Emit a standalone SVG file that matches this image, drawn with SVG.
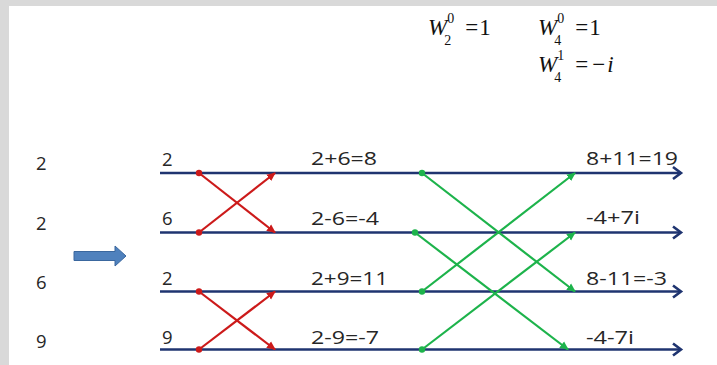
<svg xmlns="http://www.w3.org/2000/svg" width="717" height="365" viewBox="0 0 717 365">
<defs>
<style>
.lbl{font-family:"Open Sans","Liberation Sans",sans-serif;font-size:18.5px;fill:#262626}
.m{font-family:"Liberation Serif","Times New Roman",serif;fill:#111;font-size:23px}
.it{font-style:italic}
.s{font-size:14px}
.wire{stroke:#1f3470;stroke-width:2.6;fill:none}
.red{stroke:#cc1a1a;stroke-width:2.2;fill:none}
.grn{stroke:#1db34b;stroke-width:2.2;fill:none}
</style>
<marker id="navyHead" markerUnits="userSpaceOnUse" markerWidth="14" markerHeight="16" refX="11" refY="7" orient="auto" viewBox="0 0 14 14">
<path d="M3,1 L11,7 L3,13" fill="none" stroke="#1f3470" stroke-width="2.6" stroke-linejoin="miter"/>
</marker>
<marker id="redHead" markerUnits="userSpaceOnUse" markerWidth="10" markerHeight="10" refX="8" refY="4" orient="auto" viewBox="0 0 10 8">
<path d="M0,0 L9,4 L0,8 Z" fill="#cc1a1a"/>
</marker>
<marker id="grnHead" markerUnits="userSpaceOnUse" markerWidth="10" markerHeight="10" refX="8" refY="4" orient="auto" viewBox="0 0 10 8">
<path d="M0,0 L9,4 L0,8 Z" fill="#1db34b"/>
</marker>
</defs>
<rect x="0" y="0" width="717" height="365" fill="#ffffff"/>
<rect x="0" y="0" width="717" height="6" fill="#d9d9d9"/>
<rect x="0" y="0" width="9" height="365" fill="#d9d9d9"/>

<g id="twiddles">
<text class="m" x="428" y="35"><tspan class="it">W</tspan><tspan class="s" dx="0" dy="-12">0</tspan><tspan class="s" dx="-10" dy="22">2</tspan><tspan dx="14" dy="-10">=</tspan><tspan dx="1">1</tspan></text>
<text class="m" x="538" y="35"><tspan class="it">W</tspan><tspan class="s" dx="0" dy="-12">0</tspan><tspan class="s" dx="-10" dy="22">4</tspan><tspan dx="14" dy="-10">=</tspan><tspan dx="1">1</tspan></text>
<text class="m" x="538" y="72"><tspan class="it">W</tspan><tspan class="s" dx="0" dy="-12">1</tspan><tspan class="s" dx="-10" dy="22">4</tspan><tspan dx="14" dy="-10">=</tspan><tspan dx="4">−</tspan><tspan class="it" dx="2">i</tspan></text>
</g>

<g id="input">
<text class="lbl" x="36" y="170">2</text>
<text class="lbl" x="36" y="230">2</text>
<text class="lbl" x="36" y="289">6</text>
<text class="lbl" x="36" y="348">9</text>
</g>

<g id="bigArrow">
<path d="M74,251.5 L115,251.5 L115,246 L126,256 L115,266 L115,260.5 L74,260.5 Z" fill="#4f81bd" stroke="#3a679e" stroke-width="1"/>
</g>

<g id="connectors">
<line class="wire" x1="160" y1="173" x2="681" y2="173" marker-end="url(#navyHead)"/>
<line class="wire" x1="160" y1="232.5" x2="681" y2="232.5" marker-end="url(#navyHead)"/>
<line class="wire" x1="160" y1="291.5" x2="681" y2="291.5" marker-end="url(#navyHead)"/>
<line class="wire" x1="160" y1="349.5" x2="681" y2="349.5" marker-end="url(#navyHead)"/>

<line class="red" x1="199" y1="173" x2="275" y2="232.5" marker-end="url(#redHead)"/>
<line class="red" x1="199" y1="232.5" x2="275" y2="173" marker-end="url(#redHead)"/>
<line class="red" x1="199" y1="291.5" x2="275" y2="349.5" marker-end="url(#redHead)"/>
<line class="red" x1="199" y1="349.5" x2="275" y2="291.5" marker-end="url(#redHead)"/>
<circle cx="199" cy="173" r="3.2" fill="#cc1a1a"/>
<circle cx="199" cy="232.5" r="3.2" fill="#cc1a1a"/>
<circle cx="199" cy="291.5" r="3.2" fill="#cc1a1a"/>
<circle cx="199" cy="349.5" r="3.2" fill="#cc1a1a"/>

<line class="grn" x1="422" y1="173" x2="575" y2="291.5" marker-end="url(#grnHead)"/>
<line class="grn" x1="415" y1="232.5" x2="568" y2="349.5" marker-end="url(#grnHead)"/>
<line class="grn" x1="422" y1="291.5" x2="575" y2="173" marker-end="url(#grnHead)"/>
<line class="grn" x1="422" y1="349.5" x2="575" y2="232.5" marker-end="url(#grnHead)"/>
<circle cx="422" cy="173" r="3.2" fill="#1db34b"/>
<circle cx="415" cy="232.5" r="3.2" fill="#1db34b"/>
<circle cx="422" cy="291.5" r="3.2" fill="#1db34b"/>
<circle cx="422" cy="349.5" r="3.2" fill="#1db34b"/>
</g>

<g id="stage0">
<text class="lbl" x="162" y="166">2</text>
<text class="lbl" x="162" y="225">6</text>
<text class="lbl" x="162" y="285">2</text>
<text class="lbl" x="162" y="344">9</text>
</g>

<g id="stage1">
<text class="lbl" x="311" y="165" textLength="66" lengthAdjust="spacingAndGlyphs">2+6=8</text>
<text class="lbl" x="311" y="225" textLength="68" lengthAdjust="spacingAndGlyphs">2-6=-4</text>
<text class="lbl" x="311" y="285" textLength="77" lengthAdjust="spacingAndGlyphs">2+9=11</text>
<text class="lbl" x="311" y="344" textLength="68" lengthAdjust="spacingAndGlyphs">2-9=-7</text>
</g>

<g id="stage2">
<text class="lbl" x="586" y="165" textLength="92" lengthAdjust="spacingAndGlyphs">8+11=19</text>
<text class="lbl" x="586" y="224" textLength="54" lengthAdjust="spacingAndGlyphs">-4+7i</text>
<text class="lbl" x="586" y="285" textLength="81" lengthAdjust="spacingAndGlyphs">8-11=-3</text>
<text class="lbl" x="586" y="344" textLength="48" lengthAdjust="spacingAndGlyphs">-4-7i</text>
</g>
</svg>
